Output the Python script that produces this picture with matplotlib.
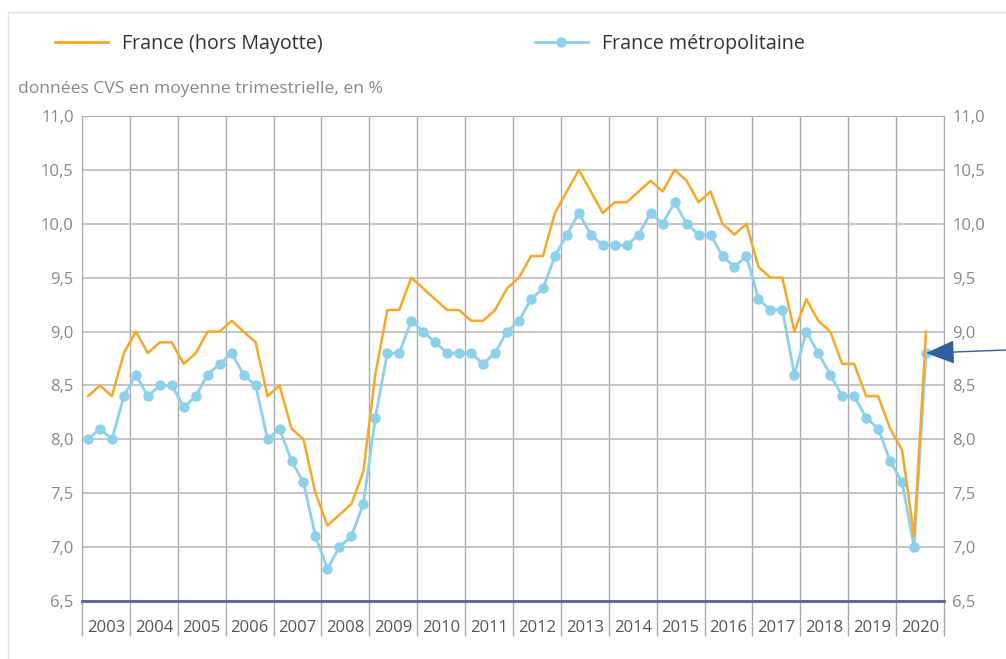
import numpy as np
import matplotlib.pyplot as plt
from matplotlib.lines import Line2D

plt.rcParams['font.family'] = ['Open Sans', 'DejaVu Sans']

years = list(range(2003, 2021))

# taux de chomage trimestriel, 2003T1 -> 2020T3
france_hors_mayotte = [
    8.4, 8.5, 8.4, 8.8,
    9.0, 8.8, 8.9, 8.9,
    8.7, 8.8, 9.0, 9.0,
    9.1, 9.0, 8.9, 8.4,
    8.5, 8.1, 8.0, 7.5,
    7.2, 7.3, 7.4, 7.7,
    8.6, 9.2, 9.2, 9.5,
    9.4, 9.3, 9.2, 9.2,
    9.1, 9.1, 9.2, 9.4,
    9.5, 9.7, 9.7, 10.1,
    10.3, 10.5, 10.3, 10.1,
    10.2, 10.2, 10.3, 10.4,
    10.3, 10.5, 10.4, 10.2,
    10.3, 10.0, 9.9, 10.0,
    9.6, 9.5, 9.5, 9.0,
    9.3, 9.1, 9.0, 8.7,
    8.7, 8.4, 8.4, 8.1,
    7.9, 7.1, 9.0,
]
france_metro = [
    8.0, 8.1, 8.0, 8.4,
    8.6, 8.4, 8.5, 8.5,
    8.3, 8.4, 8.6, 8.7,
    8.8, 8.6, 8.5, 8.0,
    8.1, 7.8, 7.6, 7.1,
    6.8, 7.0, 7.1, 7.4,
    8.2, 8.8, 8.8, 9.1,
    9.0, 8.9, 8.8, 8.8,
    8.8, 8.7, 8.8, 9.0,
    9.1, 9.3, 9.4, 9.7,
    9.9, 10.1, 9.9, 9.8,
    9.8, 9.8, 9.9, 10.1,
    10.0, 10.2, 10.0, 9.9,
    9.9, 9.7, 9.6, 9.7,
    9.3, 9.2, 9.2, 8.6,
    9.0, 8.8, 8.6, 8.4,
    8.4, 8.2, 8.1, 7.8,
    7.6, 7.0, 8.8,
]
yticks = [6.5, 7.0, 7.5, 8.0, 8.5, 9.0, 9.5, 10.0, 10.5, 11.0]

ORANGE = '#f7a82a'
BLEU = '#8dd0ea'
GRIS = '#aaaaaa'
TXT = '#888888'

W, H = 1006, 659
fig = plt.figure(figsize=(W / 100, H / 100), dpi=100)
ax = fig.add_axes([82 / W, 1 - 601 / H, (944 - 82) / W, (601 - 116) / H])

x = np.arange(len(france_metro)) + 0.5
ax.plot(x, france_metro, color=BLEU, lw=2, marker='o', ms=6.5, zorder=3)
ax.plot(x, france_hors_mayotte, color=ORANGE, lw=1.8, zorder=4)

nq = len(years) * 4
ax.set_xlim(0, nq)
ax.set_ylim(6.5, 11.0)

# grille
bornes = np.arange(0, nq + 1, 4)
ax.set_xticks(bornes)
ax.set_xticklabels([])
ax.set_xticks(np.arange(2, nq, 4), minor=True)
ax.set_xticklabels([str(a) for a in years], minor=True)
ax.tick_params(axis='x', which='major', direction='out', length=25, width=1, color=GRIS)
ax.tick_params(axis='x', which='minor', length=0, pad=14, labelsize=12, labelcolor='#555555')
ax.grid(axis='x', which='major', color=GRIS, lw=1)

ax.set_yticks(yticks)
ax.set_yticklabels([f'{v:.1f}'.replace('.', ',') for v in yticks])
ax.tick_params(axis='y', length=0, pad=6, labelsize=12, labelcolor=TXT,
               labelright=True)
ax.grid(axis='y', color='#bbbbbb', lw=1.2)
ax.set_axisbelow(True)

for s in ['left', 'right', 'top']:
    ax.spines[s].set_color(GRIS)
ax.spines['bottom'].set_color('#5b5ea6')
ax.spines['bottom'].set_linewidth(2)

# fleche
ax.annotate('', xy=(x[-1], france_metro[-1]), xycoords='data',
            xytext=(1006, H - 350), textcoords='figure pixels',
            arrowprops=dict(arrowstyle='-|>,head_length=0.75,head_width=0.31',
                            color='#2f5f9f', lw=1, mutation_scale=24,
                            shrinkA=0, shrinkB=0),
            annotation_clip=False)

# legende
h1 = [Line2D([], [], color=ORANGE, lw=2)]
h2 = [Line2D([], [], color=BLEU, lw=2, marker='o', ms=6.5)]
fig.legend(h1, ['France (hors Mayotte)'], loc='center left',
           bbox_to_anchor=(37 / W, 1 - 44 / H), frameon=False, fontsize=14.2,
           handlelength=2.7, handletextpad=0.7, labelcolor='#333333')
fig.legend(h2, ['France métropolitaine'], loc='center left',
           bbox_to_anchor=(517 / W, 1 - 44 / H), frameon=False, fontsize=14.2,
           handlelength=2.7, handletextpad=0.7, labelcolor='#333333')

fig.text(18 / W, 1 - 89 / H, 'données CVS en moyenne trimestrielle, en %',
         fontsize=12.6, color=TXT, va='center', ha='left')

# cadre
fig.add_artist(Line2D([8 / W, 1], [1 - 12 / H, 1 - 12 / H], color='#e2e2e2', lw=1))
fig.add_artist(Line2D([8 / W, 8 / W], [0, 1 - 12 / H], color='#e2e2e2', lw=1))

fig.savefig('out.png', dpi=100)
